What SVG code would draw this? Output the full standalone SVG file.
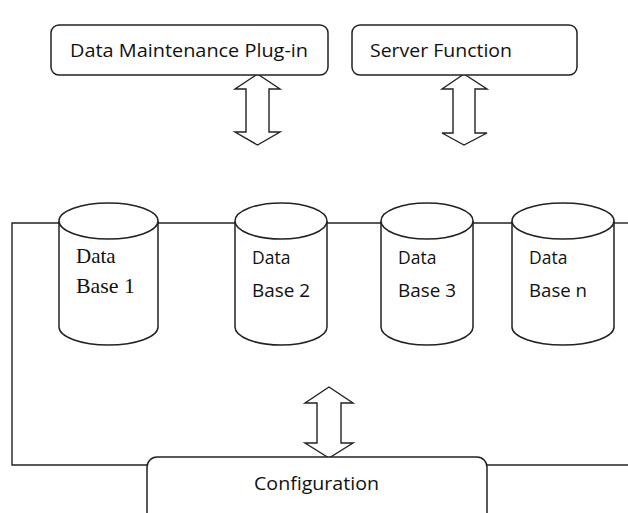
<svg xmlns="http://www.w3.org/2000/svg" width="628" height="513" viewBox="0 0 628 513">
<style>
.box{fill:#fff;stroke:#222;stroke-width:1.5}
.cyl{fill:#fff;stroke:#222;stroke-width:1.5}
.arrow{fill:#fff;stroke:#222;stroke-width:1.4;stroke-linejoin:miter}
.line{fill:none;stroke:#222;stroke-width:1.4}
.sans{font-family:"Open Sans","Noto Sans","Liberation Sans",sans-serif;font-size:17.5px;fill:#111}
.serif{font-family:"Liberation Serif","DejaVu Serif",serif;font-size:21px;fill:#111}
</style>
<rect width="628" height="513" fill="#fff"/>
<g id="connectors">
<polyline class="line" points="59,223 12,223 12,465 147,465"/>
<line class="line" x1="158" y1="223" x2="235" y2="223"/>
<line class="line" x1="327" y1="223" x2="381" y2="223"/>
<line class="line" x1="473" y1="223" x2="512" y2="223"/>
<line class="line" x1="614" y1="223" x2="628" y2="223"/>
<line class="line" x1="487" y1="465" x2="628" y2="465"/>
<polygon class="arrow" points="257.5,74 280,89 269,89 269,132 280,132 257.5,145 235,132 246,132 246,89 235,89"/>
<polygon class="arrow" points="464,74 487,89 475,89 475,133 487,133 464,145 442,133 453,133 453,89 442,89"/>
<polygon class="arrow" points="329,387 353,403 341,403 341,443 353,443 329,458 305,443 317,443 317,403 305,403"/>
</g>
<g id="plugin">
<rect class="box" x="51" y="25" width="277" height="50" rx="8"/>
<text class="sans" x="70" y="57" textLength="238" lengthAdjust="spacingAndGlyphs">Data Maintenance Plug-in</text>
</g>
<g id="server">
<rect class="box" x="352" y="25" width="225" height="50" rx="8"/>
<text class="sans" x="370" y="57" textLength="142" lengthAdjust="spacingAndGlyphs">Server Function</text>
</g>
<g id="db1">
<path class="cyl" d="M59,221 L59,327 A49.5,18 0 0 0 158,327 L158,221"/>
<ellipse class="cyl" cx="108.5" cy="221" rx="49.5" ry="18"/>
<text class="serif" x="76" y="263">Data</text>
<text class="serif" x="76" y="293" textLength="59" lengthAdjust="spacingAndGlyphs">Base 1</text>
</g>
<g id="db2">
<path class="cyl" d="M235,221 L235,327 A46,18 0 0 0 327,327 L327,221"/>
<ellipse class="cyl" cx="281" cy="221" rx="46" ry="18"/>
<text class="sans" x="252" y="264">Data</text>
<text class="sans" x="252" y="297" textLength="58" lengthAdjust="spacingAndGlyphs">Base 2</text>
</g>
<g id="db3">
<path class="cyl" d="M381,221 L381,327 A46,18 0 0 0 473,327 L473,221"/>
<ellipse class="cyl" cx="427" cy="221" rx="46" ry="18"/>
<text class="sans" x="398" y="264">Data</text>
<text class="sans" x="398" y="297" textLength="58" lengthAdjust="spacingAndGlyphs">Base 3</text>
</g>
<g id="dbn">
<path class="cyl" d="M512,221 L512,327 A51,18 0 0 0 614,327 L614,221"/>
<ellipse class="cyl" cx="563" cy="221" rx="51" ry="18"/>
<text class="sans" x="529" y="264">Data</text>
<text class="sans" x="529" y="297" textLength="58" lengthAdjust="spacingAndGlyphs">Base n</text>
</g>
<g id="configuration">
<rect class="box" x="147" y="457" width="340" height="70" rx="10"/>
<text class="sans" x="254" y="490" textLength="125" lengthAdjust="spacingAndGlyphs">Configuration</text>
</g>
</svg>
